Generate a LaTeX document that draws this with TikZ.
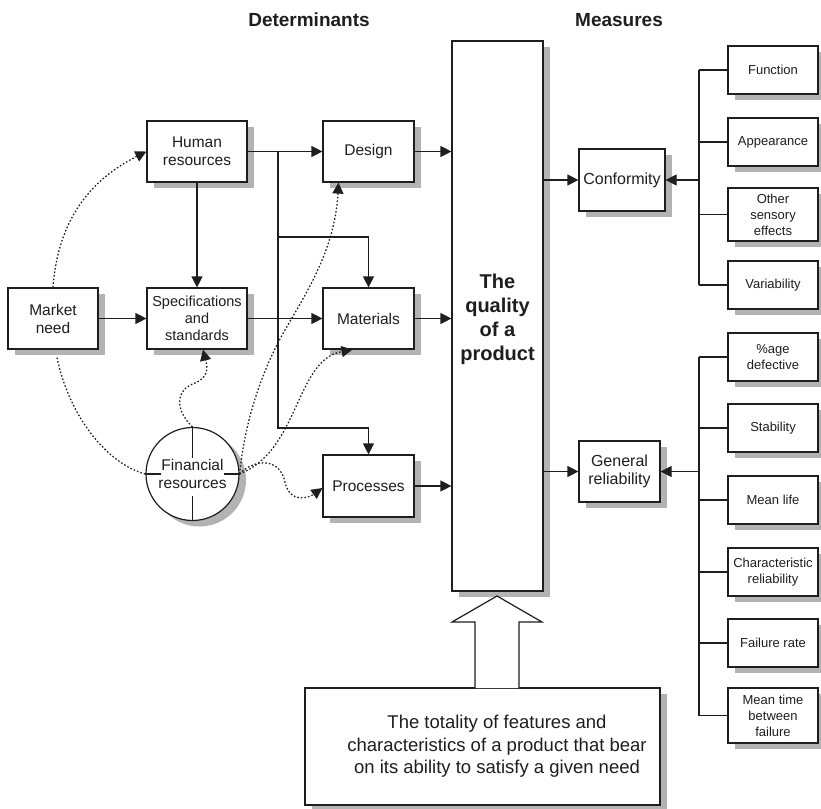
\documentclass[tikz,border=0pt]{standalone}
\usepackage{fontspec}
\setmainfont{Liberation Sans}
\usetikzlibrary{positioning,shadows,arrows.meta}

\definecolor{inkgray}{HTML}{1E1E1E}
\definecolor{shadowgray}{HTML}{B3B3B3}

% font sizes for the different kinds of boxes
\newcommand{\detfont}{\fontsize{15.5}{18}\selectfont}
\newcommand{\specfont}{\fontsize{14.5}{17}\selectfont}
\newcommand{\measfont}{\fontsize{16}{18}\selectfont}
\newcommand{\itemfont}{\fontsize{13}{16}\selectfont}
\newcommand{\headfont}{\fontsize{19}{22}\selectfont\bfseries}
\newcommand{\qualfont}{\fontsize{20}{24}\selectfont\bfseries}
\newcommand{\totfont}{\fontsize{18.5}{22.5}\selectfont}

\tikzset{
  box/.style={draw=inkgray, fill=white, line width=1.2pt, align=center,
    inner sep=0pt, text=inkgray,
    general shadow={fill=shadowgray, shadow xshift=7pt, shadow yshift=-6pt}},
  detbox/.style={box, font=\detfont, minimum width=91pt, minimum height=61pt},
  measbox/.style={box, font=\measfont, minimum height=62pt},
  itembox/.style={box, font=\itemfont, minimum width=90pt, minimum height=48pt},
  headtext/.style={font=\headfont, text=inkgray},
  wire/.style={draw=inkgray, line width=1.2pt},
  conn/.style={wire, -{Triangle[length=11pt,width=11pt]}},
  dotconn/.style={wire, line width=1.25pt, dash pattern=on 1.6pt off 2pt},
  tip/.style={-{Triangle[length=11pt,width=11pt]}},
}

\begin{document}
\begin{tikzpicture}[x=1pt, y=-1pt]
  \useasboundingbox (0,0) rectangle (821,808);

  % headings
  \node[headtext] (dethead) at (309,20) {Determinants};
  \node[headtext] (meashead) at (619,20) {Measures};

  % determinants
  \node[detbox, minimum width=90pt] (market) at (53,318.5) {Market\\need};
  \node[detbox, minimum width=100pt] (human) at (197,151.5) {Human\\resources};
  \node[detbox, minimum width=100pt, font=\specfont] (spec) at (197,318.5) {Specifications\\and\\standards};
  \node[detbox] (design) at (368.5,151.5) {Design};
  \node[detbox] (mat) at (368.5,318.5) {Materials};
  \node[detbox, minimum height=62pt] (proc) at (368.5,486) {Processes};
  \node[box, circle, font=\detfont, minimum size=93pt] (fin) at (192.5,474) {Financial\\resources};

  % the cross inside the circle
  \draw[wire] (fin.north) -- ++(0,31);
  \draw[wire] (fin.south) -- ++(0,-25);
  \draw[wire] (fin.west) -- ++(16,0);
  \draw[wire] (fin.east) -- ++(-16,0);

  % centre column
  \node[box, minimum width=91pt, minimum height=550pt,
    label={[font=\qualfont, text=inkgray, align=center, yshift=-3pt]center:The\\quality\\of a\\product}] (quality) at (497.5,316) {};
  \node[box, minimum width=355pt, minimum height=117pt,
    label={[font=\totfont, text=inkgray, align=center, xshift=14.5pt]center:The totality of features and\\characteristics of a product that bear\\on its ability to satisfy a given need}] (total) at (482.5,746.5) {};

  % hollow arrow from the definition up to the column
  \draw[wire, fill=white] (475,688) -- (475,622) -- (452,622) -- (497,596)
    -- (542,622) -- (519,622) -- (519,688);

  % measures
  \node[measbox, minimum width=86pt] (conf) at (622,180) {Conformity};
  \node[measbox, minimum width=81pt, minimum height=61pt] (genrel) at (619.5,471.5) {General\\reliability};

  \node[itembox, minimum height=48pt] (func) at (773,70) {Function};
  \node[itembox] (appear) at (773,142) {Appearance};
  \node[itembox, minimum height=53pt] (sensory) at (773,214.5) {Other\\sensory\\effects};
  \node[itembox] (var) at (773,285) {Variability};

  \node[itembox] (pct) at (773,357) {\%age\\defective};
  \node[itembox] (stab) at (773,428) {Stability};
  \node[itembox] (mlife) at (773,500) {Mean life};
  \node[itembox] (charrel) at (773,572) {Characteristic\\reliability};
  \node[itembox] (frate) at (773,643) {Failure rate};
  \node[itembox, minimum height=55pt] (mtbf) at (773,715.5) {Mean time\\between\\failure};

  % solid connectors on the left
  \draw[conn] (market) -- (spec);
  \draw[conn] (human) -- (spec);
  \draw[conn] (human) -- (design);
  \draw[conn] (spec) -- (mat);

  \coordinate (split) at (278,151.5);
  \coordinate (matturn) at (278,237);
  \coordinate (procturn) at (278,428);
  \draw[conn] (split) -- (procturn) -| (proc.north);
  \draw[conn] (matturn) -| (mat.north);

  \draw[conn] (design) -- (quality.west |- design);
  \draw[conn] (mat) -- (quality.west |- mat);
  \draw[conn] (proc) -- (quality.west |- proc);

  % out to the measures
  \draw[conn] (quality.east |- conf) -- (conf);
  \draw[conn] (quality.east |- genrel) -- (genrel);

  \coordinate (bus) at (699,0);
  \foreach \b in {func,appear,sensory,var,pct,stab,mlife,charrel,frate,mtbf}
    \draw[wire] (\b.west) -- (\b.west -| bus);
  \draw[wire] (func.west -| bus) -- (var.west -| bus);
  \draw[wire] (pct.west -| bus) -- (mtbf.west -| bus);
  \draw[conn] (conf.east -| bus) -- (conf.east);
  \draw[conn] (genrel.east -| bus) -- (genrel.east);

  % dotted influences
  \draw[dotconn, tip]
    (market.north) .. controls (58,220) and (90,180) .. (human.west);
  \draw[dotconn] ([xshift=4pt,yshift=-8pt]market.south) .. controls (70,420) and (110,465) .. (fin.west);
  \draw[dotconn, tip]
    (fin.north) .. controls (175,410) and (175,390) .. (195,383)
    .. controls (212,376) and (206,362) .. ([xshift=6pt]spec.south);
  \draw[dotconn, tip]
    (fin.east) .. controls (245,420) and (262,370) .. (285,330)
    .. controls (305,295) and (335,250) .. ([xshift=-30pt]design.south);
  \draw[dotconn, tip]
    (fin.east) .. controls (300,450) and (295,360) .. ([xshift=-16pt]mat.south);
  \draw[dotconn, tip]
    (fin.east) .. controls (255,458) and (280,458) .. (285,482)
    .. controls (290,505) and (310,497) .. ([yshift=-2pt]proc.west);
\end{tikzpicture}
\end{document}
